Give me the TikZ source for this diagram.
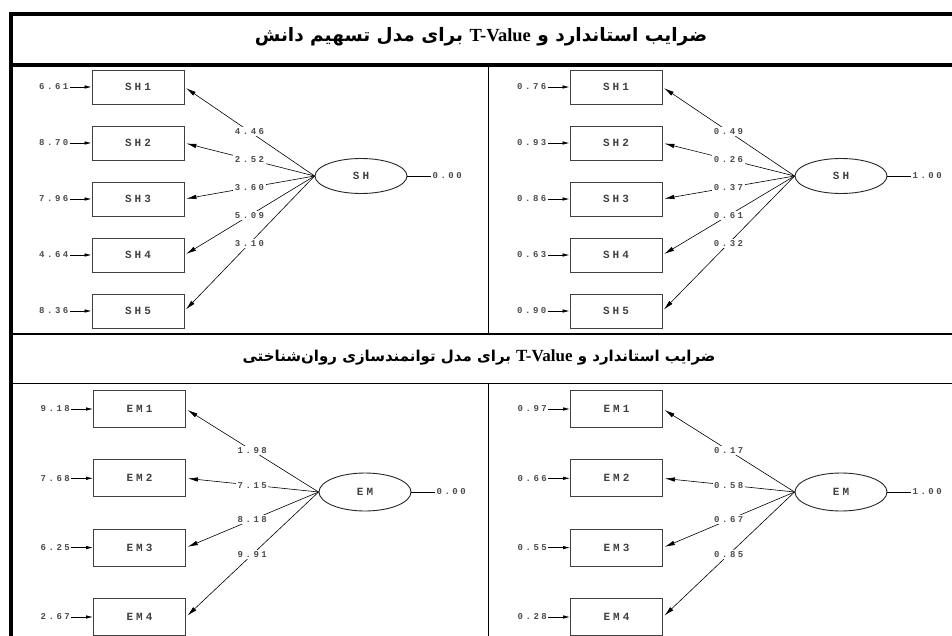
\documentclass[tikz,border=0pt]{standalone}
\usepackage{fontspec}
\usetikzlibrary{arrows.meta,shapes.geometric}
\TeXXeTstate=1
\newfontfamily\farsifont[Script=Arabic]{DejaVu Sans}
\newfontfamily\lisrelfont[LetterSpace=28]{Liberation Mono}
\newfontfamily\romanfont{Liberation Serif}

\tikzset{
    obs/.style={draw=black!75, line width=0.9pt, minimum width=92pt, minimum height=34pt, inner sep=0pt, text=black!75, font=\lisrelfont\bfseries\fontsize{11}{11}\selectfont},
    lat/.style={draw=black!85, ellipse, line width=0.9pt, minimum width=92pt, minimum height=35pt, inner sep=0pt, text=black!75, font=\lisrelfont\bfseries\fontsize{11}{11}\selectfont},
    val/.style={text=black!70, inner sep=1pt, font=\lisrelfont\bfseries\fontsize{9}{9}\selectfont},
    load/.style={val, fill=white, inner sep=1.5pt},
    path/.style={-{Latex[length=10pt,width=4.5pt]}, line width=0.6pt, shorten >=2pt},
    err/.style={-{Latex[length=7pt,width=3.5pt]}, line width=0.7pt},
    frame/.style={line width=#1, black}
}

\begin{document}
\begin{tikzpicture}[x=1pt,y=-1pt]
    \useasboundingbox (0,0) rectangle (952,636);
    \clip (0,0) rectangle (952,636);

    % frame
    \draw[frame=4pt] (11,12)--(11,636);
    \draw[frame=4pt] (9,14)--(952,14);
    \draw[frame=4pt] (9,65)--(952,65);
    \draw[frame=2pt] (9,334)--(952,334);
    \draw[frame=1pt] (9,383)--(952,383);
    \draw[frame=0.8pt] (488,65)--(488,334);
    \draw[frame=0.8pt] (488,383)--(488,636);

    \node (title1) at (481,37) {\farsifont\bfseries\fontsize{18.5}{18.5}\selectfont\beginR ضرایب استاندارد و \beginL{\romanfont\bfseries T-Value}\endL{} برای مدل تسهیم دانش\endR};
    \node (title2) at (479,357) {\farsifont\bfseries\fontsize{15}{15}\selectfont\beginR ضرایب استاندارد و \beginL{\romanfont\bfseries\fontsize{17}{17}\selectfont T-Value}\endL{} برای مدل توانمندسازی روان‌شناختی\endR};

    % knowledge sharing
    \node[lat] (SHa) at (361,176) {SH};
    \node[lat] (SHb) at (841,176) {SH};
    \node[val, anchor=west] (SHavar) at ([xshift=24pt]SHa.east) {0.00};
    \node[val, anchor=west] (SHbvar) at ([xshift=24pt]SHb.east) {1.00};
    \draw[line width=0.6pt] (SHa)--(SHavar);
    \draw[line width=0.6pt] (SHb)--(SHbvar);
    \foreach \i/\y/\ea/\la/\eb/\lb in {1/87/6.61/4.46/0.76/0.49, 2/143/8.70/2.52/0.93/0.26,
        3/199/7.96/3.60/0.86/0.37, 4/255/4.64/5.09/0.63/0.61, 5/311/8.36/3.10/0.90/0.32}{
        \node[obs] (SHa\i) at (138,\y) {SH\i};
        \node[obs] (SHb\i) at (616,\y) {SH\i};
        \node[val, anchor=east] (eSHa\i) at ([xshift=-22pt]SHa\i.west) {\ea};
        \node[val, anchor=east] (eSHb\i) at ([xshift=-22pt]SHb\i.west) {\eb};
        \draw[err] (eSHa\i)--(SHa\i);
        \draw[err] (eSHb\i)--(SHb\i);
        \draw[path] (SHa.west)--node[load]{\la}(SHa\i.east);
        \draw[path] (SHb.west)--node[load]{\lb}(SHb\i.east);
    }

    % psychological empowerment
    \node[lat, minimum height=38pt] (EMa) at (365,492) {EM};
    \node[lat, minimum height=38pt] (EMb) at (841,492) {EM};
    \node[val, anchor=west] (EMavar) at ([xshift=24pt]EMa.east) {0.00};
    \node[val, anchor=west] (EMbvar) at ([xshift=24pt]EMb.east) {1.00};
    \draw[line width=0.6pt] (EMa)--(EMavar);
    \draw[line width=0.6pt] (EMb)--(EMbvar);
    \foreach \i/\y/\ea/\la/\eb/\lb in {1/409/9.18/1.98/0.97/0.17, 2/478.3/7.68/7.15/0.66/0.58,
        3/547.6/6.25/8.18/0.55/0.67, 4/617/2.67/9.91/0.28/0.85}{
        \node[obs, minimum height=37pt] (EMa\i) at (139.5,\y) {EM\i};
        \node[obs, minimum height=37pt] (EMb\i) at (616.5,\y) {EM\i};
        \node[val, anchor=east] (eEMa\i) at ([xshift=-22pt]EMa\i.west) {\ea};
        \node[val, anchor=east] (eEMb\i) at ([xshift=-22pt]EMb\i.west) {\eb};
        \draw[err] (eEMa\i)--(EMa\i);
        \draw[err] (eEMb\i)--(EMb\i);
        \draw[path] (EMa.west)--node[load]{\la}(EMa\i.east);
        \draw[path] (EMb.west)--node[load]{\lb}(EMb\i.east);
    }
\end{tikzpicture}
\end{document}
